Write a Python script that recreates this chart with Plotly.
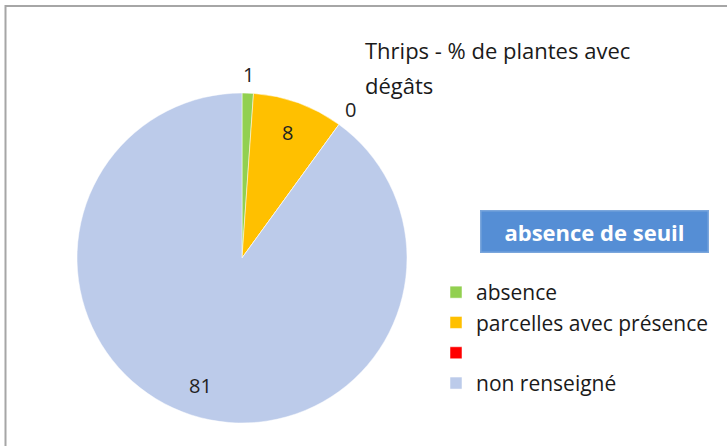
import math
import plotly.graph_objects as go

categories = ["absence", "parcelles avec présence", " ", "non renseigné"]
values = [1, 8, 0, 81]
colors = ["#92d050", "#ffc000", "#ff0000", "#bccbea"]
label_outside = [True, False, True, False]
title_lines = ["Thrips - % de plantes avec", "dégâts"]
box_label = "absence de seuil"

W, H = 727, 446
FONT = "Open Sans"

# pie geometry in pixels (figure coordinates)
CX, CY, R = 242, 258, 165

fig = go.Figure()
fig.add_trace(go.Pie(
    labels=categories,
    values=values,
    sort=False,
    direction="clockwise",
    rotation=0,
    marker=dict(colors=colors, line=dict(color="white", width=0.5)),
    textinfo="none",
    domain=dict(x=[(CX - R) / W, (CX + R) / W], y=[1 - (CY + R) / H, 1 - (CY - R) / H]),
    showlegend=True,
    hoverinfo="label+value",
))

# data labels placed like Excel: at the slice's mid-angle
total = sum(values)
cum = 0
for v, out in zip(values, label_outside):
    mid = (cum + v / 2) / total * 2 * math.pi
    cum += v
    rf = 1.115 if out else 0.81
    px = CX + rf * R * math.sin(mid)
    py = CY - rf * R * math.cos(mid)
    fig.add_annotation(x=px / W, y=1 - py / H, xref="paper", yref="paper",
                       text=str(v), showarrow=False, xanchor="center", yanchor="middle",
                       font=dict(family=FONT, size=20, color="#222222"))

fig.add_annotation(x=363 / W, y=1 - 50 / H, xref="paper", yref="paper",
                   text=title_lines[0], showarrow=False, xanchor="left", yanchor="middle",
                   font=dict(family=FONT, size=22, color="#1a1a1a"))
fig.add_annotation(x=363 / W, y=1 - 85 / H, xref="paper", yref="paper",
                   text=title_lines[1], showarrow=False, xanchor="left", yanchor="middle",
                   font=dict(family=FONT, size=22, color="#1a1a1a"))

fig.add_annotation(x=594 / W, y=1 - 231 / H, xref="paper", yref="paper",
                   text="<b>" + box_label + "</b>", showarrow=False,
                   xanchor="center", yanchor="middle",
                   width=224, height=38, bgcolor="#558ed5", bordercolor="#7aa6dc", borderwidth=1.5,
                   font=dict(family=FONT, size=22, color="white"))

fig.add_shape(type="rect", xref="paper", yref="paper",
              x0=5.5 / W, x1=1.2, y0=-0.2, y1=1 - 6 / H,
              line=dict(color="#a6a6a6", width=2), fillcolor="rgba(0,0,0,0)")

fig.update_layout(
    width=W, height=H,
    margin=dict(l=0, r=0, t=0, b=0),
    paper_bgcolor="white",
    plot_bgcolor="white",
    legend=dict(x=436 / W, y=1 - 272 / H, xanchor="left", yanchor="top",
                font=dict(family=FONT, size=21, color="#1a1a1a"),
                bgcolor="rgba(0,0,0,0)", itemwidth=30, tracegroupgap=0),
)

fig.write_html("out.html", config={"displayModeBar": False},
               post_script="document.body.style.margin='0px';")
